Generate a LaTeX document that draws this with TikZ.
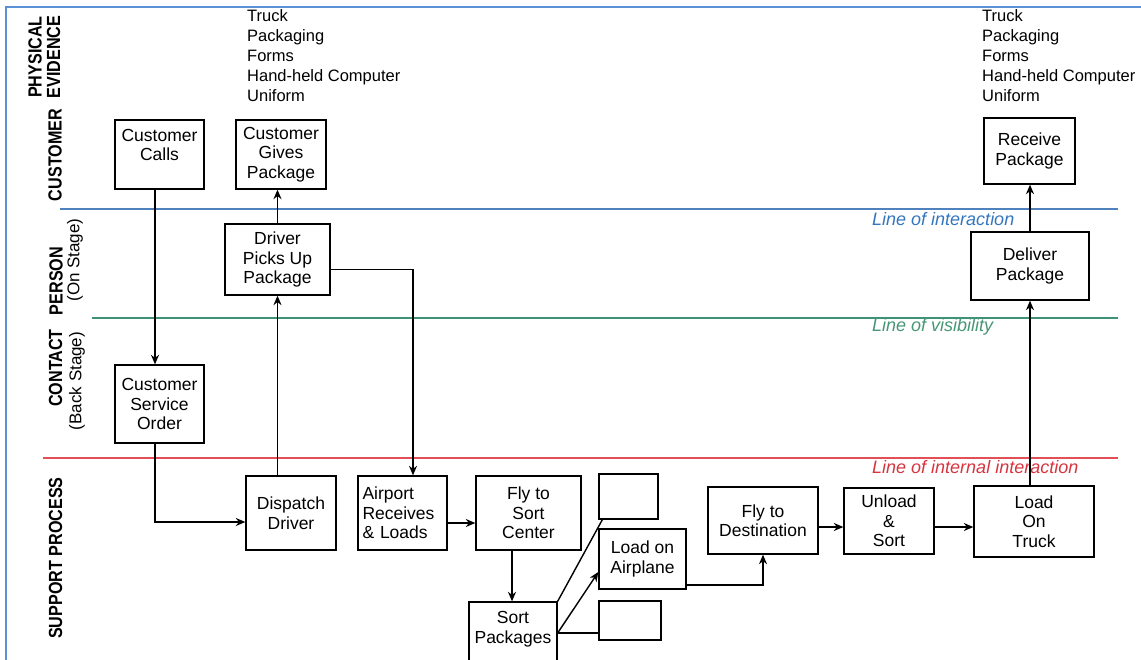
\documentclass[tikz,border=0pt]{standalone}
\usepackage{fontspec}
\setmainfont{Liberation Sans}
\newfontfamily\lanefont[FakeStretch=0.85]{Liberation Sans}
\usetikzlibrary{arrows.meta}
\definecolor{framecol}{RGB}{91,143,214}
\definecolor{interline}{RGB}{79,129,189}
\definecolor{intertext}{RGB}{52,118,190}
\definecolor{visline}{RGB}{62,146,118}
\definecolor{vistext}{RGB}{72,150,118}
\definecolor{intline}{RGB}{226,80,86}
\definecolor{inttext}{RGB}{214,52,62}
\begin{document}
\begin{tikzpicture}[x=1pt,y=-1pt,
  box/.style={draw, line width=1.3pt, align=center, inner sep=0pt,
    font=\fontsize{17.5}{19.5}\selectfont},
  conn/.style={line width=1.4pt},
  arr/.style={conn, -{Stealth[length=9.5pt,width=8pt,inset=3pt]}},
  lane/.style={rotate=90, inner sep=0pt, font=\lanefont\bfseries\fontsize{19}{20}\selectfont},
  lanesub/.style={rotate=90, inner sep=0pt, font=\fontsize{17}{19}\selectfont},
  evidence/.style={anchor=north west, align=left, inner sep=0pt,
    font=\fontsize{16.5}{20}\selectfont},
  linelabel/.style={anchor=west, inner sep=0pt, font=\itshape\fontsize{18}{19}\selectfont}]
\useasboundingbox (0,0) rectangle (1141,659);
\clip (0,0) rectangle (1141,659);

% frame
\draw[framecol, line width=2pt] (6,662) -- (6,7) -- (1145,7);

% lane titles
\node[lane] (lpa) at (35,57) {PHYSICAL};
\node[lane] (lpb) at (53.5,57) {EVIDENCE};
\node[lane] (lcu) at (55,155) {CUSTOMER};
\node[lane] (lpe) at (56,281) {PERSON};
\node[lanesub] (lpes) at (75,260) {(On Stage)};
\node[lane] (lco) at (55.5,368) {CONTACT};
\node[lanesub] (lcos) at (77,381) {(Back Stage)};
\node[lane] (lsu) at (55.5,558) {SUPPORT PROCESS};

% separating lines
\draw[interline, line width=1.3pt] (60,209) -- (1118,209);
\draw[visline, line width=1.3pt] (92,318) -- (1118,318);
\draw[intline, line width=1.3pt] (43,458) -- (1118,458);
\node[linelabel, text=intertext] (tint) at (872,219) {Line of interaction};
\node[linelabel, text=vistext] (tvis) at (872,327) {Line of visibility};
\node[linelabel, text=inttext] (tinn) at (872,467) {Line of internal interaction};

% physical evidence
\node[evidence] (ev1) at (247,9) {Truck\\Packaging\\Forms\\Hand-held Computer\\Uniform};
\node[evidence] (ev2) at (982,9) {Truck\\Packaging\\Forms\\Hand-held Computer\\Uniform};

% process steps
\node[box, minimum width=89, minimum height=69] (calls) at (159.5,154.5) {Customer\\Calls\\~};
\node[box, minimum width=90, minimum height=69] (gives) at (281,154.5) {Customer\\Gives\\Package};
\node[box, minimum width=105, minimum height=71] (driver) at (277.5,259.5) {Driver\\Picks Up\\Package};
\node[box, minimum width=89, minimum height=78] (cso) at (159.5,404) {Customer\\Service\\Order};
\node[box, minimum width=90, minimum height=74] (dispatch) at (291,513) {Dispatch\\Driver};
\node[box, minimum width=89, minimum height=74, text width=80pt, align=left] (airport) at (402.5,513) {Airport\\Receives\\\& Loads};
\node[box, minimum width=105, minimum height=74] (fly) at (528.5,513) {Fly to\\Sort\\Center};
\node[box, minimum width=59, minimum height=45] (e1) at (628.5,496.5) {};
\node[box, minimum width=87, minimum height=60] (lao) at (642.5,559) {Load on\\Airplane};
\node[box, minimum width=62, minimum height=39] (e2) at (630,620.5) {};
\node[box, minimum width=88, minimum height=70] (sort) at (513,637) {Sort\\Packages\\~};
\node[box, minimum width=110, minimum height=67] (fd) at (763,520.5) {Fly to\\Destination};
\node[box, minimum width=90, minimum height=66] (unload) at (889,521) {Unload\\\&\\Sort};
\node[box, minimum width=120, minimum height=71] (truck) at (1034,521.5) {Load\\On\\Truck};
\node[box, minimum width=118, minimum height=68] (deliver) at (1030,266) {Deliver\\Package};
\node[box, minimum width=91, minimum height=66] (receive) at (1029.5,151) {Receive\\Package};

% connectors
\draw[arr] ([xshift=-4.5pt]calls.south) -- ([xshift=-4.5pt]cso.north);
\draw[arr] ([xshift=-4.5pt]cso.south) |- ([yshift=-9pt]dispatch.west);
\draw[arr] (dispatch.north -| driver.south) -- (driver.south);
\draw[arr] (driver.north) -- (driver.north |- gives.south);
\draw[arr] ([yshift=-10pt]driver.east) -| ([xshift=10.5pt]airport.north);
\draw[arr] ([yshift=-10pt]airport.east) -- ([yshift=-10pt]fly.west);
\draw[arr] ([xshift=-16.5pt]fly.south) -- ([xshift=-16.5pt]fly.south |- sort.north);
\draw[conn] (sort.north east) -- ([xshift=4pt]e1.south west);
\draw[arr] ([yshift=4pt]sort.east) -- ([yshift=-13pt]lao.west);
\draw[conn] ([yshift=4pt]sort.east) -- ([yshift=4pt]sort.east -| e2.west);
\draw[arr] ([yshift=-26pt]lao.east) -| (fd.south);
\draw[arr] ([yshift=-6.5pt]fd.east) -- ([yshift=-6.5pt]fd.east -| unload.west);
\draw[arr] ([yshift=-6pt]unload.east) -- ([yshift=-6pt]unload.east -| truck.west);
\draw[arr] (deliver.south |- truck.north) -- (deliver.south);
\draw[arr] (deliver.north) -- (deliver.north |- receive.south);
\end{tikzpicture}
\end{document}
